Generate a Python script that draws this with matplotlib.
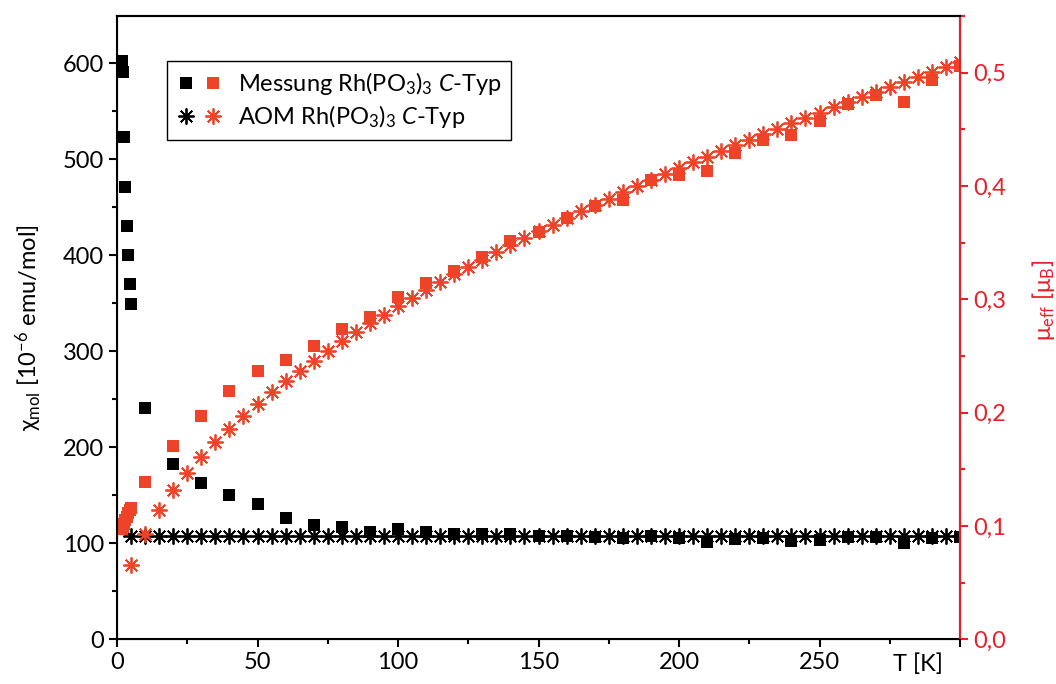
import matplotlib
matplotlib.use('Agg')
import matplotlib.pyplot as plt
import numpy as np
from matplotlib.lines import Line2D
from matplotlib.legend_handler import HandlerTuple
from matplotlib.ticker import MultipleLocator, FuncFormatter

plt.rcParams['font.family'] = ['Lato', 'DejaVu Sans']
plt.rcParams['mathtext.fontset'] = 'custom'
plt.rcParams['mathtext.rm'] = 'Lato'
plt.rcParams['mathtext.it'] = 'Lato:italic'
plt.rcParams['font.size'] = 17

# Messung: T [K], chi_mol [1e-6 emu/mol], mu_eff [mu_B]
T_mess = [1.9, 2.1, 2.5, 3.0, 3.5, 4.0, 4.5, 5.0,
          10, 20, 30, 40, 50, 60, 70, 80, 90, 100,
          110, 120, 130, 140, 150, 160, 170, 180, 190, 200,
          210, 220, 230, 240, 250, 260, 270, 280, 290, 300]
chi_mess = [602, 591, 523, 471, 430, 400, 370, 349,
            241, 183, 163, 150, 141, 126, 119, 117, 112, 114.5,
            112, 110, 110, 110, 107.5, 107.5, 107, 105, 107.5, 105,
            101.6, 104, 105, 102, 103, 106.8, 106, 100, 105, 106]
mu_mess = [0.097, 0.099, 0.102, 0.105, 0.108, 0.111, 0.114, 0.116,
           0.1385, 0.1705, 0.197, 0.219, 0.237, 0.246, 0.259, 0.2738, 0.2846, 0.302,
           0.314, 0.325, 0.337, 0.3515, 0.359, 0.3715, 0.3826, 0.3876, 0.405, 0.410,
           0.4135, 0.4294, 0.4406, 0.445, 0.4574, 0.472, 0.480, 0.4744, 0.4935, 0.506]

# AOM
T_aom = [5, 10, 15, 20, 25, 30, 35, 40, 45, 50, 55, 60, 65, 70, 75, 80, 85, 90, 95, 100,
         105, 110, 115, 120, 125, 130, 135, 140, 145, 150, 155, 160, 165, 170, 175, 180, 185, 190, 195, 200,
         205, 210, 215, 220, 225, 230, 235, 240, 245, 250, 255, 260, 265, 270, 275, 280, 285, 290, 295, 300]
chi_aom = [108, 108, 108, 108, 108, 108, 108, 108, 108, 108, 108, 108, 108, 108, 108, 108, 108, 108, 108, 108,
           108, 108, 108, 108, 108, 108, 108, 108, 108, 108, 108, 108, 108, 108, 108, 108, 108, 108, 108, 108,
           108, 108, 108, 108, 108, 108, 108, 108, 108, 108, 108, 108, 108, 108, 108, 108, 108, 108, 108, 108]
mu_aom = [0.0657, 0.0929, 0.1138, 0.1314, 0.1470, 0.1610, 0.1739, 0.1859, 0.1972, 0.2078,
          0.2180, 0.2277, 0.2370, 0.2459, 0.2545, 0.2629, 0.2710, 0.2788, 0.2865, 0.2939,
          0.3012, 0.3082, 0.3152, 0.3219, 0.3286, 0.3351, 0.3415, 0.3477, 0.3539, 0.3599,
          0.3659, 0.3718, 0.3775, 0.3832, 0.3888, 0.3943, 0.3997, 0.4051, 0.4104, 0.4156,
          0.4208, 0.4259, 0.4309, 0.4359, 0.4409, 0.4457, 0.4505, 0.4553, 0.4600, 0.4647,
          0.4693, 0.4739, 0.4784, 0.4829, 0.4874, 0.4918, 0.4962, 0.5005, 0.5048, 0.5091]

red = '#EE4328'
axred = '#E8202A'
star = (8, 2, 0)

fig = plt.figure(figsize=(10.56, 6.84), dpi=100)
fig.subplots_adjust(left=0.1108, right=0.9091, bottom=0.0655, top=0.9766)
ax1 = fig.add_subplot(111)

ax1.plot(T_mess, chi_mess, ls='none', marker='s', ms=8.5, color='black', mew=0)
ax1.plot(T_aom, chi_aom, ls='none', marker=star, ms=11.5, color='black', mew=1.3)
ax1.set_xlim(0, 300)
ax1.set_ylim(0, 649.3)
ax1.set_xticks([0, 50, 100, 150, 200, 250, 300])
ax1.set_xticklabels(['0', '50', '100', '150', '200', '250', ''])
ax1.xaxis.set_minor_locator(MultipleLocator(25))
ax1.yaxis.set_major_locator(MultipleLocator(100))
ax1.yaxis.set_minor_locator(MultipleLocator(50))
ax1.tick_params(which='major', length=6, width=1.5, direction='out')
ax1.tick_params(which='minor', length=3.5, width=1.5, direction='out')
ax1.set_ylabel('χ$_\\mathrm{mol}$ [10$^{-6}$ emu/mol]')
ax1.yaxis.set_label_coords(-0.087, 0.5)
ax1.set_xlabel('T [K]')
ax1.xaxis.set_label_coords(0.95, -0.022)
for s in ax1.spines.values():
    s.set_linewidth(1.5)

ax2 = ax1.twinx()
ax2.plot(T_mess, mu_mess, ls='none', marker='s', ms=8.5, color=red, mew=0)
ax2.plot(T_aom, mu_aom, ls='none', marker=star, ms=11.5, color=red, mew=1.3)
ax2.set_ylim(0, 0.550)
ax2.yaxis.set_major_locator(MultipleLocator(0.1))
ax2.yaxis.set_minor_locator(MultipleLocator(0.05))
ax2.yaxis.set_major_formatter(FuncFormatter(lambda v, p: f'{v:.1f}'.replace('.', ',')))
ax2.tick_params(which='major', length=6, width=1.5, colors=axred)
ax2.tick_params(which='minor', length=3.5, width=1.5, colors=axred)
ax2.spines['right'].set_color(axred)
ax2.spines['right'].set_linewidth(1.5)
ax2.spines['top'].set_linewidth(1.5)
ax2.set_ylabel('μ$_\\mathrm{eff}$ [μ$_\\mathrm{B}$]', color=axred)
ax2.yaxis.set_label_coords(1.083, 0.544)

h1 = (Line2D([], [], ls='none', marker='s', ms=8.5, color='black', mew=0),
      Line2D([], [], ls='none', marker='s', ms=8.5, color=red, mew=0))
h2 = (Line2D([], [], ls='none', marker=star, ms=11.5, color='black', mew=1.3),
      Line2D([], [], ls='none', marker=star, ms=11.5, color=red, mew=1.3))
leg = ax2.legend([h1, h2],
                 ['Messung Rh(PO$_3$)$_3$ $C$-Typ', 'AOM Rh(PO$_3$)$_3$ $C$-Typ'],
                 handler_map={tuple: HandlerTuple(ndivide=None, pad=0.3)},
                 loc='upper left', bbox_to_anchor=(0.059, 0.928), borderaxespad=0,
                 fancybox=False, edgecolor='black', framealpha=1,
                 handlelength=2.0, handletextpad=0.6, borderpad=0.4,
                 labelspacing=0.25, fontsize=17)
leg.get_frame().set_linewidth(1.0)

fig.savefig('out.png', dpi=100)
